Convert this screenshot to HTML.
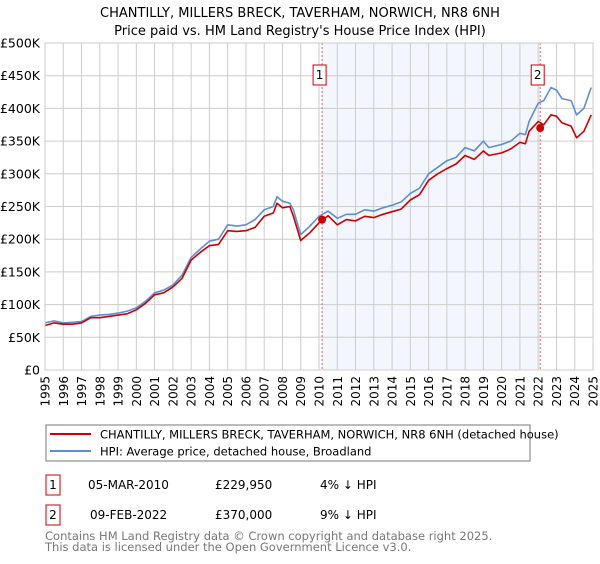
<!DOCTYPE html>
<html><head><meta charset="utf-8"><style>
body{margin:0;background:#fff;font-family:"DejaVu Sans","Liberation Sans",sans-serif;}
svg text{font-family:"DejaVu Sans","Liberation Sans",sans-serif;}
</style></head><body>
<svg id="chart" width="600" height="560" xmlns="http://www.w3.org/2000/svg">
<text x="300" y="17" font-size="13" text-anchor="middle">CHANTILLY, MILLERS BRECK, TAVERHAM, NORWICH, NR8 6NH</text>
<text x="300" y="35" font-size="13" text-anchor="middle">Price paid vs. HM Land Registry's House Price Index (HPI)</text>
<g id="plot"></g>
<g>
<rect x="46" y="425" width="484" height="36" fill="#fff" stroke="#777"/>
<line x1="50" y1="434" x2="91" y2="434" stroke="#cc0000" stroke-width="2"/>
<text x="100" y="438.5" font-size="11.5">CHANTILLY, MILLERS BRECK, TAVERHAM, NORWICH, NR8 6NH (detached house)</text>
<line x1="50" y1="451" x2="91" y2="451" stroke="#5b8fd4" stroke-width="2"/>
<text x="100" y="455.5" font-size="11.5">HPI: Average price, detached house, Broadland</text>
</g>
<g font-size="12">
<rect x="46" y="475" width="14" height="20" fill="#fff" stroke="#cc0000"/>
<text x="53" y="489" text-anchor="middle">1</text>
<text x="88" y="489">05-MAR-2010</text>
<text x="215" y="489">£229,950</text>
<text x="320" y="489">4% ↓ HPI</text>
<rect x="46" y="505" width="14" height="20" fill="#fff" stroke="#cc0000"/>
<text x="53" y="519" text-anchor="middle">2</text>
<text x="90" y="519">09-FEB-2022</text>
<text x="215" y="519">£370,000</text>
<text x="320" y="519">9% ↓ HPI</text>
</g>
<text x="45" y="540" font-size="11.5" fill="#777">Contains HM Land Registry data © Crown copyright and database right 2025.</text>
<text x="45" y="551" font-size="11.5" fill="#777">This data is licensed under the Open Government Licence v3.0.</text>
</svg>
<script>
const years=[1995,1995.5,1996,1996.5,1997,1997.5,1998,1998.5,1999,1999.5,2000,2000.5,2001,2001.5,2002,2002.5,2003,2003.5,2004,2004.5,2005,2005.5,2006,2006.5,2007,2007.5,2007.7,2008,2008.4,2008.6,2009,2009.5,2010,2010.5,2011,2011.5,2012,2012.5,2013,2013.5,2014,2014.5,2015,2015.5,2016,2016.5,2017,2017.5,2018,2018.5,2019,2019.3,2020,2020.5,2021,2021.3,2021.5,2022,2022.3,2022.7,2023,2023.3,2023.8,2024.1,2024.5,2024.9];
const hpiValues=[72,75,72,73,74,82,84,85,87,90,95,105,118,122,130,145,172,185,197,200,222,220,222,230,245,250,265,258,255,245,207,220,235,243,232,238,238,245,243,248,252,257,270,278,300,310,320,325,340,335,350,340,345,350,362,360,380,408,412,432,428,415,412,390,400,432];
const priceValues=[68,72,70,70,72,80,80,82,84,86,92,102,115,118,127,140,168,180,190,192,213,212,213,218,235,240,255,248,250,235,198,210,225,236,222,230,228,235,233,238,242,246,260,268,290,300,308,315,328,322,335,328,332,338,348,346,365,380,375,390,388,378,373,355,365,390];
const saleYears=[2010.17,2022.11];
const saleValues=[229.95,370];
const saleLabels=["1","2"];
const yTicks=[0,50,100,150,200,250,300,350,400,450,500];
const yTickLabels=["£0","£50K","£100K","£150K","£200K","£250K","£300K","£350K","£400K","£450K","£500K"];
const xTicks=[1995,1996,1997,1998,1999,2000,2001,2002,2003,2004,2005,2006,2007,2008,2009,2010,2011,2012,2013,2014,2015,2016,2017,2018,2019,2020,2021,2022,2023,2024,2025];

const L=45,R=593,T=43,B=370;
const xs=y=>L+(y-1995)/30*(R-L);
const ys=v=>B-v/500*(B-T);
const NS="http://www.w3.org/2000/svg";
const plot=document.getElementById('plot');
function mk(tag,attrs,parent){const e=document.createElementNS(NS,tag);for(const k in attrs)e.setAttribute(k,attrs[k]);(parent||plot).appendChild(e);return e;}

const shade=mk('rect',{x:xs(saleYears[0]),y:T,width:xs(saleYears[1])-xs(saleYears[0]),height:B-T,fill:'#eef3fc',opacity:0.7});



yTicks.forEach((v,i)=>{
 const g=mk('line',{x1:L,x2:R,y1:ys(v),y2:ys(v),stroke:'#ccc','stroke-width':1});
 
 
 const t=mk('text',{x:L-5,y:ys(v)+4.5,'font-size':12.5,'text-anchor':'end'});
 t.textContent=yTickLabels[i];
 
 
});
xTicks.forEach(y=>{
 const g=mk('line',{x1:xs(y),x2:xs(y),y1:T,y2:B,stroke:'#ccc','stroke-width':1});
 
 
 const px=xs(y)+4.5, py=B+6;
 const t=mk('text',{x:px,y:py,'font-size':12,'text-anchor':'end',transform:'rotate(-90 '+px+' '+py+')'});
 t.textContent=y;
 
 
});

saleYears.forEach((y,i)=>{
 const l=mk('line',{x1:xs(y),x2:xs(y),y1:T,y2:B,stroke:'#e06060','stroke-width':1,'stroke-dasharray':'2,2'});
 
 
 const bx=mk('rect',{x:xs(y)-9,y:65,width:13,height:20,fill:'#fff',stroke:'#cc0000'});
 
 
 const t=mk('text',{x:xs(y)-2.5,y:79,'font-size':12,'text-anchor':'middle'});
 t.textContent=saleLabels[i];
 
 
});

function line(vals,color,name){
 const d=vals.map((v,i)=>(i?'L':'M')+xs(years[i]).toFixed(1)+','+ys(v).toFixed(1)).join('');
 const p=mk('path',{d:d,fill:'none',stroke:color,'stroke-width':1.6,'stroke-linejoin':'round'});
 
 
}
line(hpiValues,'#5b8fd4','hpi-line');
line(priceValues,'#cc0000','price-line');

saleYears.forEach((y,i)=>{
 const c=mk('circle',{cx:xs(y),cy:ys(saleValues[i]),r:4,fill:'#cc0000'});
 
 
});
const ax=mk('rect',{x:L,y:T,width:R-L,height:B-T,fill:'none',stroke:'#ccc'});


</script>
</body></html>
